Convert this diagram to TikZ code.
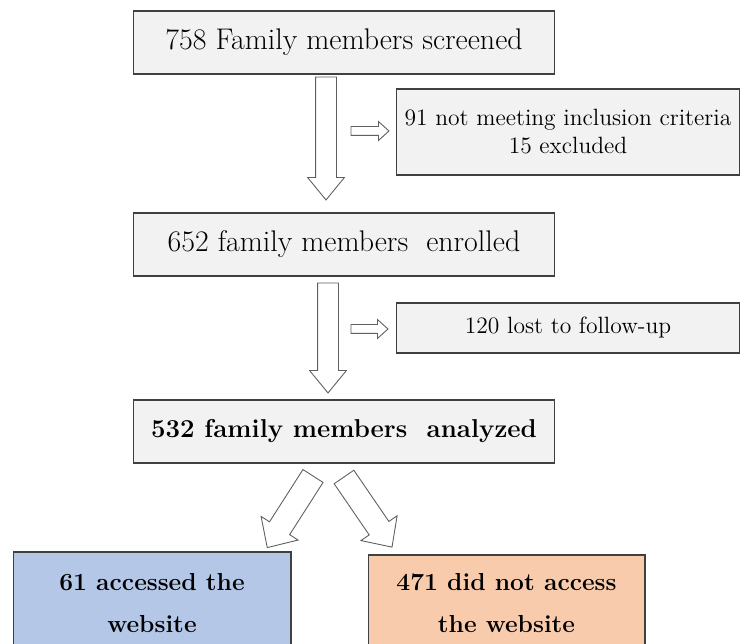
\documentclass[tikz,border=0pt]{standalone}
\usetikzlibrary{shapes.arrows,positioning}
\definecolor{boxgray}{RGB}{242,242,242}
\definecolor{boxline}{RGB}{64,64,64}
\definecolor{arrowline}{RGB}{95,95,95}
\definecolor{siteblue}{RGB}{180,199,231}
\definecolor{siteorange}{RGB}{248,203,173}

\begin{document}
\begin{tikzpicture}[
  x=0.02cm, y=-0.02cm,
  flowbox/.style={rectangle, draw=boxline, fill=boxgray, line width=0.6pt, inner sep=0pt,
                  outer sep=0pt, align=center, minimum width=8.44cm, minimum height=1.26cm,
                  font=\fontsize{17}{20}\selectfont},
  sidebox/.style={flowbox, minimum width=6.88cm, font=\fontsize{13.4}{16}\selectfont},
  resultbox/.style={flowbox, minimum width=5.56cm,
                    font=\fontsize{14}{24}\selectfont\bfseries},
  barrow/.style={single arrow, draw=arrowline, fill=white, line width=0.5pt, outer sep=0pt,
                 inner xsep=0pt, inner ysep=0.2cm, single arrow head extend=0.16cm,
                 single arrow tip angle=78.6, anchor=tail},
  sarrow/.style={barrow, inner ysep=0.08cm, single arrow head extend=0.1cm,
                 single arrow tip angle=84},
  darrow/.style={barrow, inner ysep=0.23cm, single arrow head extend=0.2cm,
                 single arrow tip angle=87.4, minimum height=1.7cm}
]
  \useasboundingbox (0,0) rectangle (741,644);
  \clip (0,0) rectangle (741,644);
  % main column
  \node[flowbox] (screened) at (344,42.5) {758 Family members screened};
  \node[flowbox] (enrolled) at (344,244.5) {652 family members~ enrolled};
  \node[flowbox, font=\fontsize{14.7}{18}\selectfont\bfseries] (analyzed)
    at (344,431.5) {532 family members~ analyzed};
  % side boxes
  \node[sidebox, minimum height=1.72cm] (excluded) at (568,132)
    {91 not meeting inclusion criteria\\15 excluded};
  \node[sidebox, minimum height=1.0cm] (lost) at (568,328) {120 lost to follow-up};
  % results
  \node[resultbox, fill=siteblue, minimum height=2.04cm] (accessed) at (152,603)
    {61 accessed the\\website};
  \node[resultbox, fill=siteorange, minimum width=5.54cm, minimum height=1.92cm] (noaccess)
    at (506.5,603) {471 did not access\\the website};
  % block arrows
  \node[barrow, rotate=-90, minimum height=2.46cm] (scrtoenr) at (326,77) {};
  \node[barrow, rotate=-90, minimum height=2.2cm] (enrtoana) at (328,283) {};
  \node[sarrow, minimum height=0.76cm] (toexcl) at (351,131) {};
  \node[sarrow, minimum height=0.74cm] (tolost) at (351,329) {};
  \node[darrow, rotate=-122.6] (toacc) at (313,476) {};
  \node[darrow, rotate=-55.6] (tonoacc) at (344,477) {};
\end{tikzpicture}
\end{document}
